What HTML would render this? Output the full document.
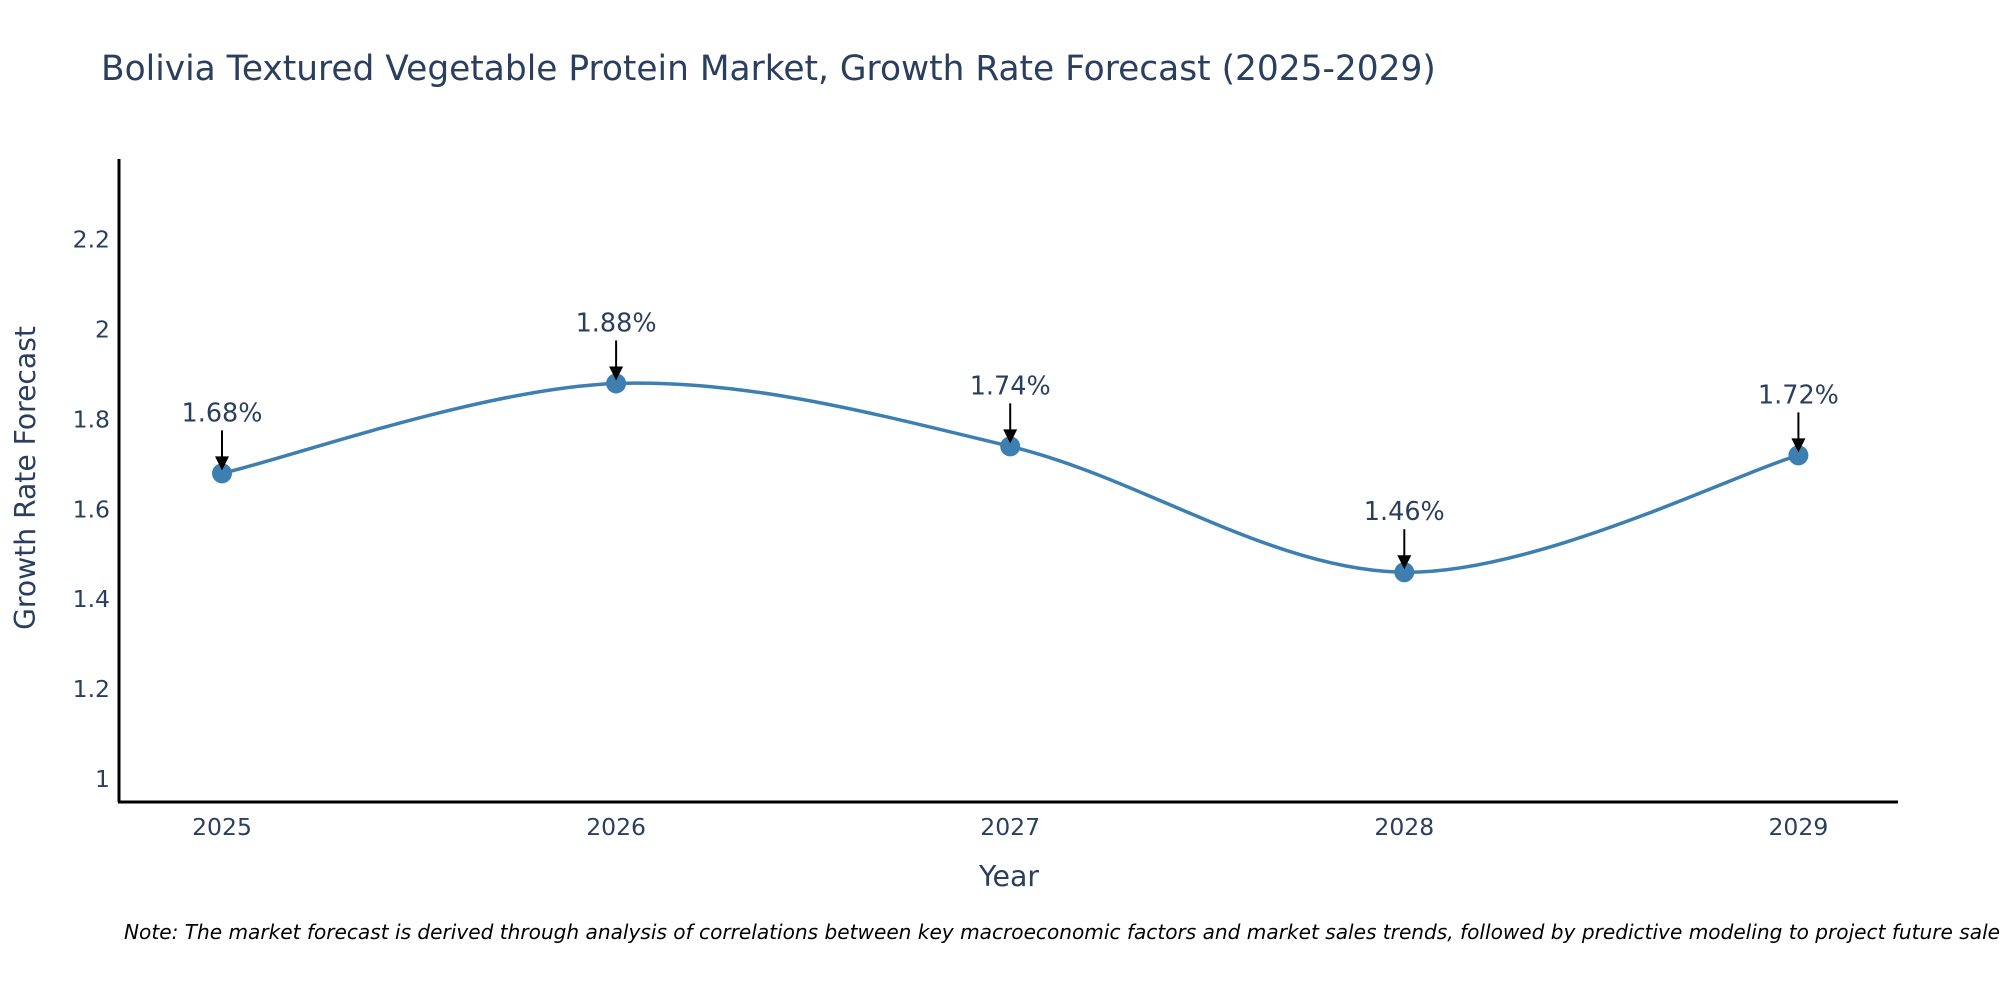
<!DOCTYPE html>
<html><head><meta charset="utf-8"><style>
body{margin:0;background:#fff;width:2000px;height:1000px;overflow:hidden;font-family:"DejaVu Sans","Liberation Sans",sans-serif;}
</style></head><body>
<svg width="2000" height="1000" xmlns="http://www.w3.org/2000/svg" font-family="DejaVu Sans, Liberation Sans, sans-serif">
<text x="101" y="80" font-size="34.4" fill="#2a3f5f">Bolivia Textured Vegetable Protein Market, Growth Rate Forecast (2025-2029)</text>
<g id="ticks"></g>
<path id="line" fill="none" stroke="#3d7fb0" stroke-width="3.5"/>
<g id="marks"></g>
<line x1="119" y1="159" x2="119" y2="802" stroke="#000" stroke-width="3"/>
<line x1="118" y1="802" x2="1898" y2="802" stroke="#000" stroke-width="3"/>
<text x="1009" y="886" font-size="28.4" fill="#2a3f5f" text-anchor="middle">Year</text>
<text transform="translate(35,478) rotate(-90)" font-size="28.2" fill="#2a3f5f" text-anchor="middle">Growth Rate Forecast</text>
<text x="124" y="939" font-size="20.1" font-style="italic" fill="#000">Note: The market forecast is derived through analysis of correlations between key macroeconomic factors and market sales trends, followed by predictive modeling to project future sales.</text>
</svg>
<script>
const years=[2025,2026,2027,2028,2029];
const values=[1.68,1.88,1.74,1.46,1.72];
const labels=["1.68%","1.88%","1.74%","1.46%","1.72%"];
const yTicks=[1,1.2,1.4,1.6,1.8,2,2.2];
const yTickLabels=["1","1.2","1.4","1.6","1.8","2","2.2"];
const NS="http://www.w3.org/2000/svg";
function xs(v){return 222+(v-2025)*394.1;}
function ys(v){return 779-(v-1)*449.5;}
function mk(t,a){const e=document.createElementNS(NS,t);for(const k in a)e.setAttribute(k,a[k]);return e;}
const tk=document.getElementById('ticks');
yTicks.forEach((v,i)=>{const t=mk('text',{x:110,y:ys(v)+8,'font-size':23.5,fill:'#2a3f5f','text-anchor':'end'});


t.textContent=yTickLabels[i];tk.appendChild(t);});
years.forEach(v=>{const t=mk('text',{x:xs(v),y:835,'font-size':23.5,fill:'#2a3f5f','text-anchor':'middle'});


t.textContent=String(v);tk.appendChild(t);});
const P=years.map((y,i)=>[xs(y),ys(values[i])]);
let d='M'+P[0][0]+','+P[0][1];
for(let i=0;i<P.length-1;i++){const p0=P[Math.max(0,i-1)],p1=P[i],p2=P[i+1],p3=P[Math.min(P.length-1,i+2)];
const c1=[p1[0]+(p2[0]-p0[0])/6,p1[1]+(p2[1]-p0[1])/6],c2=[p2[0]-(p3[0]-p1[0])/6,p2[1]-(p3[1]-p1[1])/6];
d+=' C'+c1+' '+c2+' '+p2;}
document.getElementById('line').setAttribute('d',d);
const m=document.getElementById('marks');
P.forEach((p,i)=>{const c=mk('circle',{cx:p[0],cy:p[1],r:10,fill:'#3d7fb0'});


m.appendChild(c);
const l=mk('line',{x1:p[0],y1:p[1]-43,x2:p[0],y2:p[1]-12,stroke:'#000','stroke-width':2});


m.appendChild(l);
const h=mk('path',{d:`M${p[0]-7},${p[1]-17} L${p[0]+7},${p[1]-17} L${p[0]},${p[1]-3} Z`,fill:'#000'});


m.appendChild(h);
const t=mk('text',{x:p[0],y:p[1]-52,'font-size':25.5,fill:'#2a3f5f','text-anchor':'middle'});


t.textContent=labels[i];m.appendChild(t);});
</script>
</body></html>
